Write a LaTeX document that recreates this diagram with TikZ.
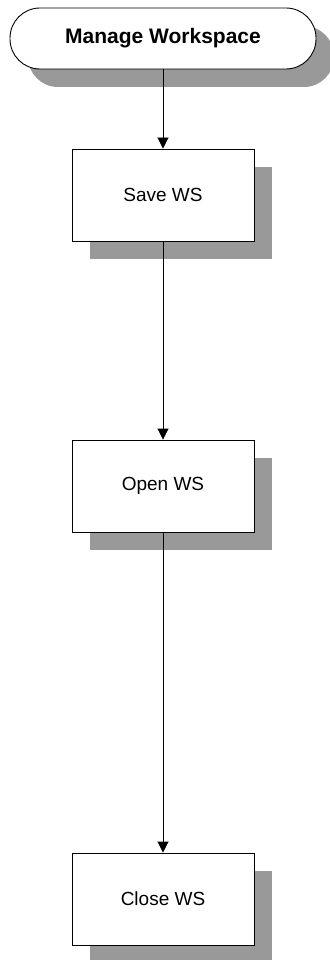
\documentclass[tikz,border=0pt]{standalone}
\usepackage{fontspec}
\setmainfont{Liberation Sans}
\usetikzlibrary{arrows.meta,shadows}
\definecolor{shadowgray}{RGB}{153,153,153}
\begin{document}
\begin{tikzpicture}[x=1pt,y=-1pt,
  shad/.style={general shadow={shadow xshift=18pt,shadow yshift=-18pt,fill=shadowgray}},
  term/.style={draw,line width=0.9pt,fill=white,rounded corners=30pt,minimum width=306pt,minimum height=61pt,shad,font=\fontsize{21}{24}\selectfont\bfseries},
  procbox/.style={draw,line width=0.9pt,fill=white,minimum width=182pt,minimum height=92pt,shad,font=\fontsize{19}{22}\selectfont},
  conn/.style={line width=0.9pt,-{Triangle[length=11pt,width=11pt]}}]
\useasboundingbox (0,0) rectangle (329,960);
\node[term] (mw) at (163,38.5) {Manage Workspace};
\node[procbox] (save) at (163,195) {Save WS};
\node[procbox] (open) at (163,486) {Open WS};
\node[procbox] (close) at (163,899) {Close WS};
\draw[conn] (mw) -- (save);
\draw[conn] (save) -- (open);
\draw[conn] (open) -- (close);
\end{tikzpicture}
\end{document}
